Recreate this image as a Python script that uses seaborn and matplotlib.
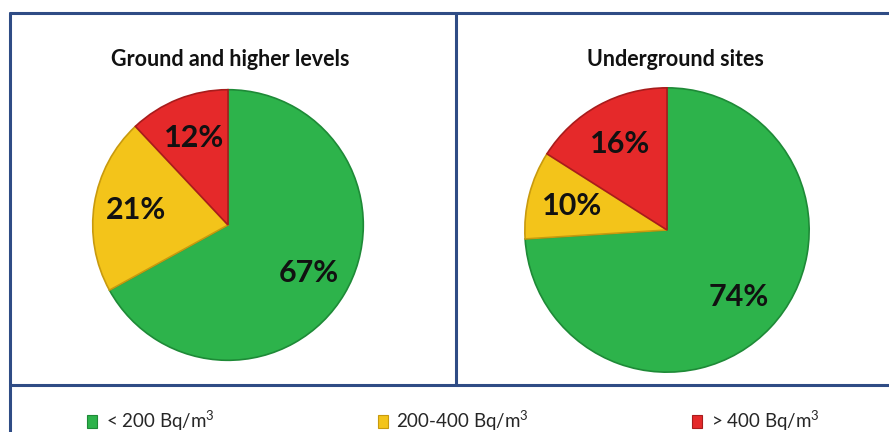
import matplotlib
matplotlib.use("Agg")
import matplotlib.pyplot as plt
import matplotlib.patches as mpatches
from matplotlib.lines import Line2D
import seaborn as sns

# Dados
categorias = ["< 200 Bq/m$^{3}$", "200-400 Bq/m$^{3}$", "> 400 Bq/m$^{3}$"]
titulos = ["Ground and higher levels", "Underground sites"]
ground = [67, 21, 12]
underground = [74, 10, 16]

cores = ["#2DB34B", "#F3C41A", "#E5292A"]
bordas = ["#1E8A37", "#C89A0E", "#A81C1C"]
azul = "#2F4C85"

sns.set_theme(style="white")
plt.rcParams["font.family"] = ["Lato", "DejaVu Sans"]
plt.rcParams["mathtext.fontset"] = "custom"
plt.rcParams["mathtext.rm"] = "Lato"
plt.rcParams["mathtext.default"] = "regular"

W, H = 889, 432
fig = plt.figure(figsize=(W / 100, H / 100), dpi=100)
fig.patch.set_facecolor("white")


def eixo_pizza(cx, cy, r):
    return fig.add_axes([(cx - r) / W, (H - cy - r) / H, 2 * r / W, 2 * r / H])


paineis = [(ground, 228, 225, 138, 230), (underground, 667, 230, 145, 675)]

for (valores, cx, cy, r, tx), titulo in zip(paineis, titulos):
    ax = eixo_pizza(cx, cy, r)
    wedges, _, textos = ax.pie(
        valores, colors=cores, startangle=90, counterclock=False,
        autopct="%d%%", pctdistance=0.69, radius=1,
        wedgeprops=dict(linewidth=1.2),
    )
    for w, b in zip(wedges, bordas):
        w.set_edgecolor(b)
    for t in textos:
        t.set_fontsize(22)
        t.set_fontweight("bold")
        t.set_color("#111111")
    ax.set_xlim(-1.02, 1.02)
    ax.set_ylim(-1.02, 1.02)
    ax.axis("off")
    fig.text(tx / W, 1 - 60 / H, titulo, ha="center", va="center",
             fontsize=15.5, fontweight="bold", color="#111111")

# Linhas de moldura
linhas = [
    ([10 / W, 1], [1 - 13 / H, 1 - 13 / H]),
    ([10 / W, 10 / W], [0, 1 - 13 / H]),
    ([456 / W, 456 / W], [1 - 385 / H, 1 - 13 / H]),
    ([10 / W, 1], [1 - 385 / H, 1 - 385 / H]),
]
for xs, ys in linhas:
    fig.add_artist(Line2D(xs, ys, color=azul, linewidth=2.2,
                          transform=fig.transFigure))

handles = [mpatches.Patch(facecolor=c, edgecolor=b, linewidth=0.8)
           for c, b in zip(cores, bordas)]
fig.legend(handles, categorias, loc="center left",
           bbox_to_anchor=(87 / W, 1 - 421 / H), ncol=3, frameon=False,
           fontsize=13.5, handlelength=0.55, handleheight=0.65,
           handletextpad=0.45, columnspacing=8.7, borderpad=0,
           borderaxespad=0)

fig.savefig("out.png", dpi=100)
